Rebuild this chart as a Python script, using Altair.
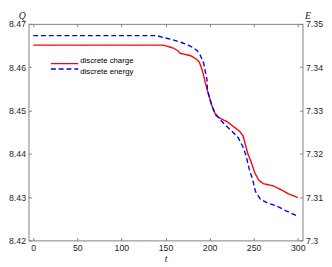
import altair as alt
import pandas as pd

# discrete charge Q(t)
t_q = [0, 50, 100, 140, 147, 154, 159, 164, 166.5, 173.6, 179, 184, 188, 189.6, 191.5,
       193.3, 195, 197, 198.6, 202.2, 204.7, 207.5, 212.9, 220, 227, 234, 238, 240.4,
       243.2, 247.5, 251, 255.7, 261, 272, 281, 290, 300]
q_vals = [8.4651, 8.4651, 8.4651, 8.4651, 8.4651, 8.4647, 8.4644, 8.4638, 8.4632, 8.4629,
          8.4626, 8.4620, 8.4613, 8.4605, 8.4594, 8.4580, 8.4565, 8.4550, 8.4539, 8.4514,
          8.4499, 8.4488, 8.4481, 8.4474, 8.4463, 8.4452, 8.4441, 8.4423, 8.4401, 8.4379,
          8.4357, 8.4339, 8.4331, 8.4326, 8.4317, 8.4307, 8.4299]

# discrete energy E(t)
t_e = [0, 50, 100, 139.7, 148.6, 157.5, 168, 175.4, 180.8, 186, 189.6, 193.3, 195, 197,
       197.5, 200.4, 203.3, 206.8, 211, 218, 225.4, 232.5, 238, 241.5, 245, 248.6, 252,
       257.6, 264.7, 275.4, 286, 300]
e_vals = [7.3473, 7.3473, 7.3473, 7.3473, 7.3468, 7.3464, 7.3457, 7.3451, 7.3446, 7.3438,
          7.3427, 7.3409, 7.3391, 7.3372, 7.3347, 7.3325, 7.3307, 7.3292, 7.3281, 7.3266,
          7.3252, 7.3237, 7.3215, 7.3195, 7.3164, 7.3142, 7.3113, 7.3095, 7.3087, 7.3080,
          7.3069, 7.3056]

series = ["discrete charge", "discrete energy"]
colors = ["#ff0000", "#0000ff"]
x_ticks = [0, 50, 100, 150, 200, 250, 300]
q_ticks = [8.42, 8.43, 8.44, 8.45, 8.46, 8.47]
e_ticks = [7.30, 7.31, 7.32, 7.33, 7.34, 7.35]

df_q = pd.DataFrame({"t": t_q, "v": q_vals, "series": series[0]})
df_e = pd.DataFrame({"t": t_e, "v": e_vals, "series": series[1]})
df_leg = pd.DataFrame({"series": series})

GRAY = "#7f7f7f"
FONT = "Liberation Sans"
TFONT = "Liberation Serif"

xscale = alt.Scale(domain=[-5.4, 305.4], nice=False, zero=False)
xaxis = alt.Axis(values=x_ticks, title="t", offset=-3, tickSize=3, domain=False,
                 labelPadding=3, grid=False, titleFontStyle="italic",
                 titleFontWeight="normal", titleFontSize=10, titleY=25,
                 titleBaseline="alphabetic")

color = alt.Color("series:N", scale=alt.Scale(domain=series, range=colors), legend=None)
dash = alt.StrokeDash("series:N", scale=alt.Scale(domain=series, range=[[1, 0], [5, 3]]),
                      legend=None)

line_q = alt.Chart(df_q).mark_line(strokeWidth=1.4).encode(
    x=alt.X("t:Q", scale=xscale, axis=xaxis),
    y=alt.Y("v:Q", scale=alt.Scale(domain=[8.42, 8.47], nice=False, zero=False),
            axis=alt.Axis(values=q_ticks, format=".2f", title="Q", orient="left",
                          offset=-3, tickSize=3, domain=False, labelPadding=3,
                          grid=False, titleAngle=0, titleFontStyle="italic",
                          titleFontWeight="normal", titleFontSize=10, titleX=-10,
                          titleY=-6, titleAlign="center", titleBaseline="alphabetic")),
    color=color,
    strokeDash=dash,
)

line_e = alt.Chart(df_e).mark_line(strokeWidth=1.4).encode(
    x=alt.X("t:Q", scale=xscale, axis=None),
    y=alt.Y("v:Q", scale=alt.Scale(domain=[7.30, 7.35], nice=False, zero=False),
            axis=alt.Axis(values=e_ticks, title="E", orient="right",
                          labelExpr="format(datum.value, '.2~f')",
                          offset=-3, tickSize=3, domain=False, labelPadding=3,
                          grid=False, titleAngle=0, titleFontStyle="italic",
                          titleFontWeight="normal", titleFontSize=10, titleX=8,
                          titleY=-6, titleAlign="center", titleBaseline="alphabetic")),
    color=color,
    strokeDash=dash,
)

top_ticks = alt.Chart(df_q).mark_point(opacity=0).encode(
    x=alt.X("t:Q", scale=xscale,
            axis=alt.Axis(values=x_ticks, orient="top", labels=False, title=None,
                          offset=-3, tickSize=3, domain=False, grid=False)),
)

# legend drawn inside the plot (no frame)
leg_y = alt.Y("series:N", scale=alt.Scale(domain=series, range=[38, 49], padding=0),
              axis=None)
leg_lines = alt.Chart(df_leg).mark_rule(strokeWidth=1.5).encode(
    x=alt.value(23), x2=alt.value(51), y=leg_y, color=color, strokeDash=dash,
)
leg_text = alt.Chart(df_leg).mark_text(
    align="left", baseline="middle", font=FONT, fontSize=8, color="#000000"
).encode(
    x=alt.value(53), y=leg_y, text="series:N",
)

chart = alt.layer(line_q, line_e, top_ticks, leg_lines, leg_text).resolve_scale(
    y="independent", x="independent"
).properties(
    width=281, height=222,
    autosize=alt.AutoSizeParams(type="none"),
    padding={"left": 21, "top": 13, "right": 22, "bottom": 24},
).configure_view(
    stroke=GRAY, strokeWidth=1
).configure_axis(
    labelFont=FONT, labelFontSize=9, labelColor="#262626",
    titleFont=TFONT, titleColor="#262626", tickColor=GRAY, tickWidth=1,
)

chart.save("out.html", embed_options={"renderer": "svg", "actions": False})
